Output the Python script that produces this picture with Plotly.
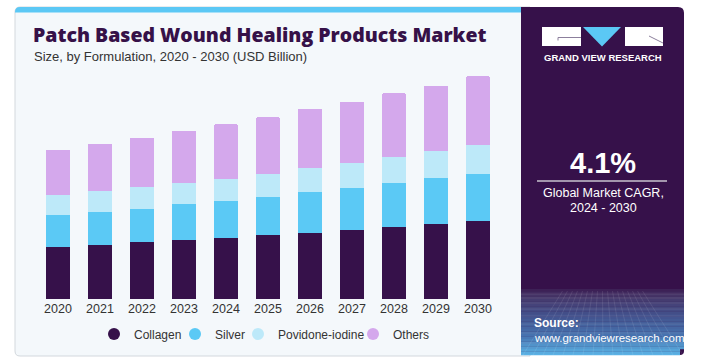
import plotly.graph_objects as go

# ---------------- data ----------------
years = ["2020", "2021", "2022", "2023", "2024", "2025", "2026", "2027", "2028", "2029", "2030"]
collagen = [0.404, 0.417, 0.438, 0.456, 0.473, 0.494, 0.512, 0.533, 0.554, 0.579, 0.600]
silver = [0.245, 0.255, 0.259, 0.278, 0.286, 0.296, 0.314, 0.324, 0.340, 0.358, 0.368]
povidone = [0.154, 0.162, 0.168, 0.162, 0.168, 0.175, 0.185, 0.193, 0.203, 0.208, 0.222]
others = [0.347, 0.363, 0.378, 0.404, 0.422, 0.438, 0.456, 0.473, 0.492, 0.502, 0.530]
series_names = ["Collagen", "Silver", "Povidone-iodine", "Others"]
series_colors = ["#36114a", "#5bc9f5", "#bde9f9", "#d4a8ec"]
label_year = "2023"
label_text = "$1.3B"

W, H = 718, 363


def X(px):
    return px / W


def Y(py):
    return 1 - py / H


def rounded(x0, y0, x1, y1, tl=0, tr=0, br=0, bl=0):
    p = f"M {X(x0 + tl)},{Y(y0)} L {X(x1 - tr)},{Y(y0)} "
    if tr:
        p += f"Q {X(x1)},{Y(y0)} {X(x1)},{Y(y0 + tr)} "
    p += f"L {X(x1)},{Y(y1 - br)} "
    if br:
        p += f"Q {X(x1)},{Y(y1)} {X(x1 - br)},{Y(y1)} "
    p += f"L {X(x0 + bl)},{Y(y1)} "
    if bl:
        p += f"Q {X(x0)},{Y(y1)} {X(x0)},{Y(y1 - bl)} "
    p += f"L {X(x0)},{Y(y0 + tl)} "
    if tl:
        p += f"Q {X(x0)},{Y(y0)} {X(x0 + tl)},{Y(y0)} "
    return p + "Z"


FONT = "Arial, Liberation Sans, sans-serif"
legend_ids = ["legend", "legend2", "legend3", "legend4"]
legend_marker_px = [118, 199, 262, 377]

fig = go.Figure()
for name, vals, col in zip(series_names, [collagen, silver, povidone, others], series_colors):
    fig.add_trace(go.Bar(x=years, y=vals, name=name, marker=dict(color=col, line=dict(width=0)),
                         showlegend=False, hoverinfo="skip"))
for name, col, lid in zip(series_names, series_colors, legend_ids):
    fig.add_trace(go.Scatter(x=[years[0]], y=[None], mode="markers", name=name, legend=lid,
                             marker=dict(symbol="circle", size=11, color=col), hoverinfo="skip"))

shapes = []
shapes.append(dict(type="path", path=rounded(15, 7, 530, 356, tl=5, bl=5), xref="paper", yref="paper",
                   fillcolor="#f4f8fb", line=dict(color="#d3d8dd", width=1), layer="below"))
shapes.append(dict(type="path", path=rounded(15, 7, 521, 12.5, tl=5), xref="paper", yref="paper",
                   fillcolor="#5bc8f5", line=dict(width=0), layer="below"))
shapes.append(dict(type="path", path=rounded(521, 7, 684, 355, tr=6, br=4), xref="paper", yref="paper",
                   fillcolor="#36114a", line=dict(width=0), layer="below"))


def hex2rgb(h):
    h = h.lstrip("#")
    return [int(h[i:i + 2], 16) for i in (0, 2, 4)]


stops = [(289, "#3b1c52"), (296, "#463668"), (315, "#43518c"), (336, "#4673b0"), (355, "#5cb4e6")]
y0 = 289
step = 2.5
while y0 < 355:
    y1 = min(y0 + step, 355)
    ym = (y0 + y1) / 2
    for (a, ca), (b, cb) in zip(stops[:-1], stops[1:]):
        if a <= ym <= b:
            t = (ym - a) / (b - a)
            r1, r2 = hex2rgb(ca), hex2rgb(cb)
            c = [round(r1[i] + (r2[i] - r1[i]) * t) for i in range(3)]
            break
    col = f"rgb({c[0]},{c[1]},{c[2]})"
    shapes.append(dict(type="rect", xref="paper", yref="paper", x0=X(521), x1=X(684) if y1 < 351 else X(680),
                       y0=Y(y1 + 0.3), y1=Y(y0), fillcolor=col, line=dict(width=0), layer="below"))
    y0 = y1
for gy in [294, 298, 303, 309, 316, 324, 333, 343]:
    shapes.append(dict(type="line", xref="paper", yref="paper", x0=X(521), x1=X(684), y0=Y(gy), y1=Y(gy),
                       line=dict(color="rgba(255,255,255,0.10)", width=1), layer="below"))
for xb in range(523, 684, 10):
    xt = 602 + (xb - 602) * 0.5
    shapes.append(dict(type="line", xref="paper", yref="paper", x0=X(xt), x1=X(xb), y0=Y(291), y1=Y(355),
                       line=dict(color="rgba(255,255,255,0.09)", width=1), layer="below"))

# logo
shapes.append(dict(type="rect", xref="paper", yref="paper", x0=X(542), x1=X(581), y0=Y(46), y1=Y(27),
                   fillcolor="white", line=dict(width=0)))
shapes.append(dict(type="rect", xref="paper", yref="paper", x0=X(625), x1=X(663), y0=Y(46), y1=Y(27),
                   fillcolor="white", line=dict(width=0)))
shapes.append(dict(type="path", xref="paper", yref="paper",
                   path=f"M {X(583)},{Y(27)} L {X(621)},{Y(27)} L {X(602)},{Y(46.5)} Z",
                   fillcolor="#5bc8f5", line=dict(width=0)))
shapes.append(dict(type="line", xref="paper", yref="paper", x0=X(558), x1=X(581), y0=Y(37.5), y1=Y(37.5),
                   line=dict(color="#8c7f9c", width=1)))
shapes.append(dict(type="line", xref="paper", yref="paper", x0=X(558), x1=X(558), y0=Y(37.5), y1=Y(40.5),
                   line=dict(color="#8c7f9c", width=1)))
shapes.append(dict(type="line", xref="paper", yref="paper", x0=X(649), x1=X(663), y0=Y(36), y1=Y(43),
                   line=dict(color="#8c7f9c", width=1)))
shapes.append(dict(type="line", xref="paper", yref="paper", x0=X(537), x1=X(667), y0=Y(181), y1=Y(181),
                   line=dict(color="#c9c3cf", width=1.5)))

i_lab = years.index(label_year)
annotations = [
    dict(text="Patch Based Wound Healing Products Market", x=X(31), y=Y(35), xref="paper", yref="paper",
         xanchor="left", yanchor="middle", showarrow=False,
         font=dict(family="Open Sans", size=19.5, color="#361148", weight=800)),
    dict(text="Size, by Formulation, 2020 - 2030 (USD Billion)", x=X(32), y=Y(56.5), xref="paper",
         yref="paper", xanchor="left", yanchor="middle", showarrow=False,
         font=dict(family=FONT, size=13, color="#333333")),
    dict(text=label_text, x=label_year,
         y=collagen[i_lab] + silver[i_lab] + povidone[i_lab] + others[i_lab],
         xref="x", yref="y", yanchor="bottom", yshift=9, showarrow=False,
         font=dict(family=FONT, size=14, color="#333333")),
    dict(text="<b>GRAND VIEW RESEARCH</b>", x=X(602.5), y=Y(57), xref="paper", yref="paper", showarrow=False,
         xanchor="center", yanchor="middle", font=dict(family=FONT, size=9.5, color="white")),
    dict(text="<b>4.1%</b>", x=X(603), y=Y(162.5), xref="paper", yref="paper", showarrow=False,
         xanchor="center", yanchor="middle", font=dict(family=FONT, size=29, color="white")),
    dict(text="Global Market CAGR,", x=X(603), y=Y(193), xref="paper", yref="paper", showarrow=False,
         xanchor="center", yanchor="middle", font=dict(family=FONT, size=12.5, color="white")),
    dict(text="2024 - 2030", x=X(603), y=Y(208), xref="paper", yref="paper", showarrow=False,
         xanchor="center", yanchor="middle", font=dict(family=FONT, size=12.5, color="white")),
    dict(text="<b>Source:</b>", x=X(532), y=Y(323), xref="paper", yref="paper", showarrow=False,
         xanchor="left", yanchor="middle", font=dict(family=FONT, size=12, color="white")),
    dict(text="www.grandviewresearch.com", x=X(532), y=Y(337.5), xref="paper", yref="paper", showarrow=False,
         xanchor="left", yanchor="middle", font=dict(family=FONT, size=11.5, color="white")),
]

px_per_b = 129.5
legends = {}
for lid, mpx in zip(legend_ids, legend_marker_px):
    legends[lid] = dict(orientation="h", x=X(mpx - 4 - 20), xanchor="left", y=Y(334), yanchor="middle",
                        font=dict(family=FONT, size=12, color="#333333"), bgcolor="rgba(0,0,0,0)",
                        borderwidth=0, itemsizing="constant")

fig.update_layout(
    width=W, height=H,
    margin=dict(l=0, r=0, t=0, b=0, pad=0),
    paper_bgcolor="white", plot_bgcolor="rgba(0,0,0,0)",
    barmode="stack", bargap=0.415, barcornerradius=2,
    shapes=shapes, annotations=annotations,
    font=dict(family=FONT, color="#333333"),
    xaxis=dict(domain=[X(37), X(499)], type="category", categoryorder="array", categoryarray=years,
               range=[-0.5, len(years) - 0.5], showgrid=False, zeroline=False, showline=False,
               ticks="", tickfont=dict(family=FONT, size=12.5, color="#333333"), automargin=False,
               fixedrange=True),
    yaxis=dict(domain=[Y(299), Y(60)], range=[0, (299 - 60) / px_per_b], visible=False, showgrid=False,
               zeroline=False, automargin=False, fixedrange=True),
    showlegend=True,
    **legends,
)

fig.write_html("out.html", config={"displayModeBar": False},
               post_script="document.body.style.margin='0';document.body.style.overflow='hidden';")
